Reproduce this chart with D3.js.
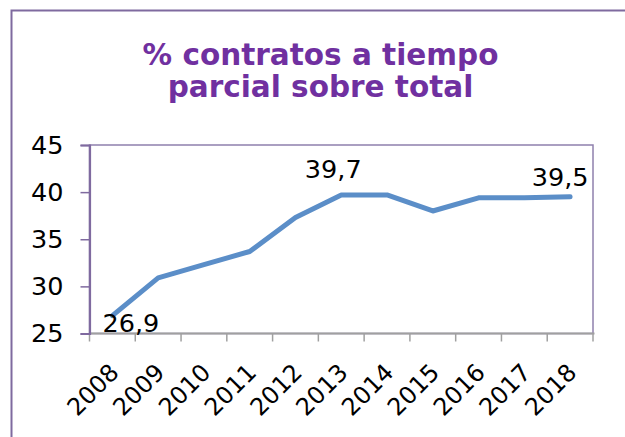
<!DOCTYPE html>
<html>
<head>
<meta charset="utf-8">
<script src="https://cdn.jsdelivr.net/npm/d3@7"></script>
<style>
  html, body { margin: 0; padding: 0; background: #fff; }
  svg { display: block; }
  text { font-family: "DejaVu Sans", Verdana, sans-serif; }
</style>
</head>
<body>
<svg id="chart" width="625" height="437"></svg>
<script>
// ---- data ----
const titleLines = ["% contratos a tiempo", "parcial sobre total"];
const years = ["2008","2009","2010","2011","2012","2013","2014","2015","2016","2017","2018"];
const values = [26.9, 30.9, 32.3, 33.7, 37.3, 39.7, 39.7, 38.0, 39.4, 39.4, 39.5];
const yTicks = [25, 30, 35, 40, 45];
const labelledYears = ["2008", "2013", "2018"];

// ---- layout ----
const W = 625, H = 437;
const plot = { left: 89.5, right: 593, top: 145, bottom: 333.5 };
const purple = "#7f6a9f";
const svg = d3.select("#chart");

// outer chart border (extends beyond the window on right/bottom)
svg.append("rect")
  .attr("x", 11.5).attr("y", 10.5)
  .attr("width", W + 20).attr("height", H + 20)
  .attr("fill", "#fff").attr("stroke", purple).attr("stroke-width", 2);

// title
const title = svg.append("text")
  .attr("text-anchor", "middle")
  .attr("font-weight", "bold")
  .attr("font-size", 29.5)
  .attr("fill", "#7030a0");
titleLines.forEach((t, i) => {
  title.append("tspan").attr("x", 320.5).attr("y", 65 + i * 32).text(t);
});

// scales
const x = d3.scaleBand().domain(years).range([plot.left, plot.right]).padding(0);
const y = d3.scaleLinear().domain([25, 45]).range([plot.bottom, plot.top]);
const cx = d => x(d) + x.bandwidth() / 2;

// plot area border
svg.append("rect")
  .attr("x", plot.left).attr("y", plot.top)
  .attr("width", plot.right - plot.left).attr("height", plot.bottom - plot.top)
  .attr("fill", "none").attr("stroke", "#8f80ad").attr("stroke-width", 1.5);

// x axis (gray, ticks at band boundaries)
const xAxisG = svg.append("g");
xAxisG.append("line")
  .attr("x1", plot.left).attr("x2", plot.right + 1.5)
  .attr("y1", plot.bottom).attr("y2", plot.bottom)
  .attr("stroke", "#a0a0a0").attr("stroke-width", 2);
const boundaries = years.map(d => x(d)).concat([plot.right]);
xAxisG.selectAll("line.tick").data(boundaries).enter().append("line")
  .attr("class", "tick")
  .attr("x1", d => d).attr("x2", d => d)
  .attr("y1", plot.bottom).attr("y2", plot.bottom + 8)
  .attr("stroke", "#a0a0a0").attr("stroke-width", 1.5);
xAxisG.selectAll("text").data(years).enter().append("text")
  .attr("text-anchor", "end")
  .attr("font-size", 24)
  .attr("fill", "#000")
  .attr("transform", d => `translate(${cx(d) + 8},${374}) rotate(-45)`)
  .text(d => d);

// y axis
const yAxis = d3.axisLeft(y).tickValues(yTicks).tickSize(9).tickPadding(17).tickFormat(d3.format("d"));
const yAxisG = svg.append("g").attr("transform", `translate(${plot.left},0)`).call(yAxis);
yAxisG.select(".domain").attr("stroke", purple).attr("stroke-width", 2.2);
yAxisG.selectAll(".tick line").attr("stroke", purple).attr("stroke-width", 1.5);
yAxisG.selectAll(".tick text")
  .attr("font-family", "DejaVu Sans, Verdana, sans-serif")
  .attr("font-size", 25.5).attr("fill", "#000");

// line
const line = d3.line().x((d, i) => cx(years[i])).y(d => y(d));
svg.append("path")
  .datum(values)
  .attr("d", line)
  .attr("fill", "none")
  .attr("stroke", "#5b8ec8")
  .attr("stroke-width", 5)
  .attr("stroke-linejoin", "round")
  .attr("stroke-linecap", "round");

// data labels
const labelOffsets = { "2008": [18.5, 16], "2013": [-8, -17], "2018": [-10, -11] };
svg.selectAll("text.dl").data(labelledYears).enter().append("text")
  .attr("class", "dl")
  .attr("text-anchor", "middle")
  .attr("font-size", 25.5)
  .attr("fill", "#000")
  .attr("x", d => cx(d) + labelOffsets[d][0])
  .attr("y", d => y(values[years.indexOf(d)]) + labelOffsets[d][1])
  .text(d => d3.format(".1f")(values[years.indexOf(d)]).replace(".", ","));
</script>
</body>
</html>
